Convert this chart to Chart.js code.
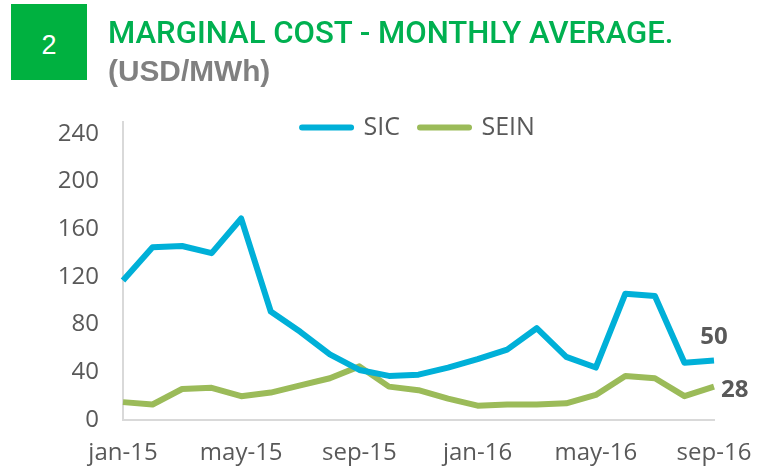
<!DOCTYPE html>
<html>
<head>
<meta charset="utf-8">
<script src="https://cdn.jsdelivr.net/npm/chart.js@4.4.0/dist/chart.umd.min.js"></script>
<style>
html, body { margin: 0; padding: 0; background: #fff; }
#wrap { position: relative; width: 760px; height: 469px; overflow: hidden; }
#chart { position: absolute; left: 0; top: 0; }
#badge { position: absolute; left: 11px; top: 4px; width: 76px; height: 76px; background: #00b140;
  color: #fff; font: 27px "Liberation Sans", Arial, sans-serif; line-height: 82px; text-align: center; }
.head { position: absolute; left: 108px; white-space: nowrap; transform-origin: 0 0; line-height: 1; }
#title { top: 17px; color: #00b050; font-size: 31px; font-family: Roboto, "Liberation Sans", sans-serif; font-weight: 500; }
#sub { top: 56px; color: #808080; font-size: 30px; font-weight: bold; font-family: "Liberation Sans", Arial, sans-serif; }
</style>
</head>
<body>
<div id="wrap">
  <canvas id="chart" width="760" height="469"></canvas>
  <div id="badge">2</div>
  <div id="title" class="head">MARGINAL COST - MONTHLY AVERAGE.</div>
  <div id="sub" class="head">(USD/MWh)</div>
</div>
<script>
// monthly labels, jan-15 .. sep-16
var months = ["jan-15","feb-15","mar-15","apr-15","may-15","jun-15","jul-15","aug-15","sep-15","oct-15","nov-15","dec-15",
              "jan-16","feb-16","mar-16","apr-16","may-16","jun-16","jul-16","aug-16","sep-16"];
var sicValues  = [117,145,146,140,169,91,74,55,42,37,38,44,51,59,77,53,44,106,104,48,50];
var seinValues = [15,13,26,27,20,23,29,35,45,28,25,18,12,13,13,14,21,37,35,20,28];
var endLabels  = ["50","28"];
var yTicks     = [0,40,80,120,160,200,240];

var tickColor = "#595959";
var tickFont = { family: "'Open Sans', sans-serif", size: 24 };

// fit the header texts to the widths of the original
function squeeze(id, target) {
  var el = document.getElementById(id);
  el.style.transform = "scaleX(" + (target / el.offsetWidth) + ")";
}
squeeze("title", 565);
squeeze("sub", 162);

// value labels at the end of each line
var endLabelPlugin = {
  id: "endLabels",
  afterDatasetsDraw: function(chart) {
    var ctx = chart.ctx;
    ctx.save();
    ctx.fillStyle = tickColor;
    ctx.font = "bold 24px 'Open Sans', sans-serif";
    ctx.textBaseline = "middle";
    chart.data.datasets.forEach(function(ds, i) {
      var pts = chart.getDatasetMeta(i).data;
      var p = pts[pts.length - 1];
      if (i === 0) {
        ctx.textAlign = "center";
        ctx.fillText(endLabels[i], p.x, p.y - 23);
      } else {
        ctx.textAlign = "left";
        ctx.fillText(endLabels[i], p.x + 7, p.y + 4);
      }
    });
    ctx.restore();
  }
};

// legend sits over the top of the plot, centred on the plot area
var legendRoomPlugin = {
  id: "legendRoom",
  afterLayout: function(chart) {
    var lg = chart.legend;
    if (lg) {
      lg.bottom += 30;
      lg.height += 30;
      lg.left = chart.chartArea.left;
      lg.right = chart.chartArea.right;
      lg.width = lg.right - lg.left;
    }
  }
};

var ctx = document.getElementById("chart");
var chart = new Chart(ctx, {
  type: "line",
  data: {
    labels: months,
    datasets: [
      { label: "SIC", data: sicValues, borderColor: "#00b0d8", backgroundColor: "#00b0d8",
        borderWidth: 6, pointRadius: 0, tension: 0, borderJoinStyle: "round" },
      { label: "SEIN", data: seinValues, borderColor: "#9bbb59", backgroundColor: "#9bbb59",
        borderWidth: 6, pointRadius: 0, tension: 0, borderJoinStyle: "round" }
    ]
  },
  options: {
    responsive: false,
    animation: false,
    devicePixelRatio: 1,
    layout: { padding: { top: 95, right: 46, left: 0, bottom: 0 } },
    plugins: {
      title: { display: false },
      tooltip: { enabled: false },
      legend: {
        display: true,
        position: "top",
        maxHeight: 27,
        labels: {
          color: tickColor,
          font: { family: "'Open Sans', sans-serif", size: 25 },
          padding: 20,
          boxWidth: 49,
          boxHeight: 0,
          generateLabels: function(chart) {
            return chart.data.datasets.map(function(ds, i) {
              return { text: ds.label, fillStyle: ds.borderColor, strokeStyle: ds.borderColor,
                       lineWidth: 6, lineJoin: "round", lineCap: "round",
                       datasetIndex: i, hidden: false, fontColor: tickColor };
            });
          }
        }
      }
    },
    scales: {
      x: {
        grid: { display: false, drawTicks: false },
        border: { display: true, color: "#d9d9d9", width: 2 },
        afterFit: function(scale) {
          scale.height = 49;
          scale.paddingLeft = 0;
          scale.paddingRight = 0;
        },
        ticks: {
          color: tickColor, font: tickFont, padding: 19,
          autoSkip: false, maxRotation: 0,
          callback: function(v, i) { return i % 4 === 0 ? months[i] : null; }
        }
      },
      y: {
        min: 0, max: 250,
        grid: { display: false, drawTicks: false },
        border: { display: true, color: "#d9d9d9", width: 2 },
        afterFit: function(scale) { scale.width = 123; },
        afterBuildTicks: function(scale) {
          scale.ticks = yTicks.map(function(v) { return { value: v }; });
        },
        ticks: { color: tickColor, font: tickFont, padding: 24 }
      }
    }
  },
  plugins: [endLabelPlugin, legendRoomPlugin]
});
</script>
</body>
</html>
